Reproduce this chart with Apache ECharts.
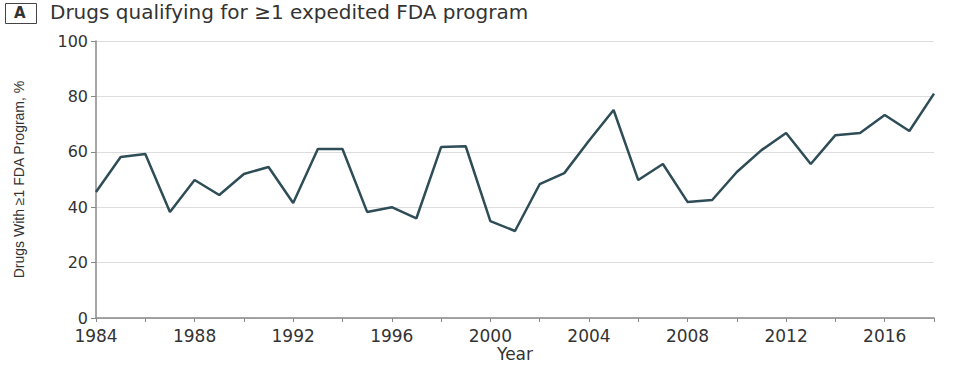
<!DOCTYPE html>
<html>
<head>
<meta charset="utf-8">
<script src="https://cdn.jsdelivr.net/npm/echarts@6/dist/echarts.min.js"></script>
<style>
html,body{margin:0;padding:0;background:#fff;}
#c{width:960px;height:365px;}
</style>
</head>
<body>
<div id="c"></div>
<script>
const years = [1984,1985,1986,1987,1988,1989,1990,1991,1992,1993,1994,1995,1996,1997,1998,1999,2000,2001,2002,2003,2004,2005,2006,2007,2008,2009,2010,2011,2012,2013,2014,2015,2016,2017,2018];
const pctExpedited = [45.5,58.1,59.2,38.3,49.8,44.4,52.0,54.5,41.5,61.0,61.0,38.3,40.0,36.0,61.7,62.0,35.0,31.4,48.3,52.3,64.0,75.1,49.8,55.6,41.9,42.6,52.7,60.6,66.8,55.6,66.0,66.8,73.3,67.5,81.0];
const panelLetter = 'A';
const titleText = 'Drugs qualifying for \u22651 expedited FDA program';
const yAxisName = 'Drugs With \u22651 FDA Program, %';
const xAxisName = 'Year';

const chart = echarts.init(document.getElementById('c'), null, {renderer:'svg'});
const data = years.map((y,i)=>[y,pctExpedited[i]]);
chart.setOption({
  animation:false,
  backgroundColor:'#fff',
  graphic:[
    {type:'rect', left:5, top:3, shape:{width:31,height:20}, style:{fill:'#fff', stroke:'#444', lineWidth:1}},
    {type:'text', left:14, top:5, style:{text:panelLetter, font:'bold 15px "DejaVu Sans"', fill:'#333'}},
    {type:'text', left:50, top:2, style:{text:titleText, font:'20px "DejaVu Sans"', fill:'#333'}}
  ],
  grid:{left:96, right:26, top:41, bottom:47, containLabel:false, outerBoundsMode:'none'},
  xAxis:{
    type:'value', min:1984, max:2018, interval:2,
    name:xAxisName, nameLocation:'middle', nameGap:27, nameMoveOverlap:false,
    nameTextStyle:{fontFamily:'DejaVu Sans', fontSize:17, lineHeight:17, color:'#333'},
    axisLine:{show:true, lineStyle:{color:'#888', width:1.5}},
    axisTick:{show:true, length:4, lineStyle:{color:'#888'}},
    splitLine:{show:false},
    axisLabel:{fontFamily:'DejaVu Sans', fontSize:17, lineHeight:14, color:'#333', margin:11,
      formatter:v=> (v-1984)%4===0 && v<2018 ? String(v) : ''}
  },
  yAxis:{
    type:'value', min:0, max:100, interval:20,
    name:yAxisName, nameLocation:'middle', nameGap:70, nameRotate:90,
    nameTextStyle:{fontFamily:'"Liberation Sans Narrow","Liberation Sans",sans-serif', fontSize:14, color:'#333'},
    axisLine:{show:true, lineStyle:{color:'#888', width:1.5}},
    axisTick:{show:true, length:5, lineStyle:{color:'#888'}},
    splitLine:{show:true, lineStyle:{color:'#ddd', width:1}},
    axisLabel:{fontFamily:'DejaVu Sans', fontSize:16, lineHeight:12, color:'#333', margin:8}
  },
  series:[{
    type:'line', data:data, symbol:'none',
    lineStyle:{color:'#2e4d57', width:2.5},
    z:3
  }]
});
</script>
</body>
</html>
